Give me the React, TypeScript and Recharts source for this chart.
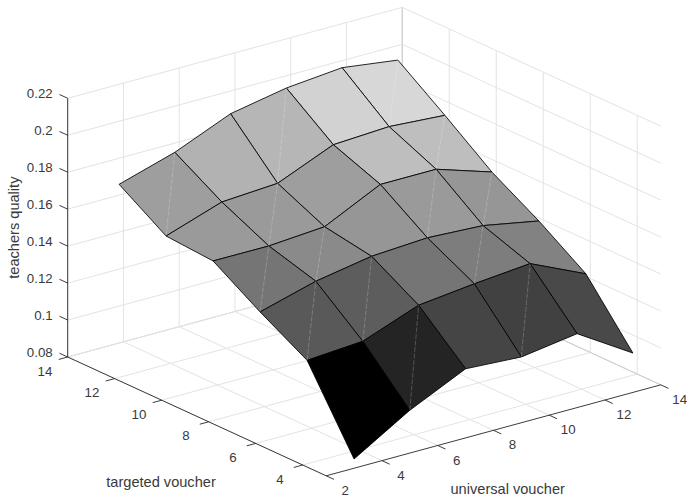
import { ScatterChart, Scatter, XAxis, YAxis } from "recharts"

const uValues = [3, 5, 7, 9, 11, 13]
const tValues = [3, 5, 7, 9, 11, 13]

// teachers quality, one row per targeted voucher value, columns follow uValues
const qualityT3 = [0.085, 0.1032, 0.1174, 0.1156, 0.12, 0.1013]
const qualityT5 = [0.1267, 0.1288, 0.1401, 0.1435, 0.1462, 0.1325]
const qualityT7 = [0.1412, 0.1496, 0.1549, 0.1567, 0.1551, 0.1494]
const qualityT9 = [0.1571, 0.157, 0.1592, 0.1739, 0.1739, 0.1642]
const qualityT11 = [0.1589, 0.1691, 0.171, 0.1837, 0.1853, 0.1832]
const qualityT13 = [0.1752, 0.1843, 0.197, 0.2027, 0.2055, 0.2014]
const surface = [qualityT3, qualityT5, qualityT7, qualityT9, qualityT11, qualityT13]

const uTicks = [2, 4, 6, 8, 10, 12, 14]
const tTicks = [4, 6, 8, 10, 12, 14]
const zTicks = [0.08, 0.1, 0.12, 0.14, 0.16, 0.18, 0.2, 0.22]
const zTickLabels = ["0.08", "0.1", "0.12", "0.14", "0.16", "0.18", "0.2", "0.22"]

const uMin = 2
const uMax = 14
const tMin = 3
const tMax = 14
const zMin = 0.08
const zMax = 0.22

// faces that show the light triangle seam, [u, t] of the low corner
const seamFaces = [
  [3, 11], [7, 11], [11, 11],
  [5, 9], [11, 9],
  [3, 7], [5, 7], [9, 7], [11, 7],
  [3, 5], [5, 5], [9, 5],
  [5, 3], [9, 3],
]

const WIDTH = 690
const HEIGHT = 497
const GRID = "#e3e3e3"
const BOX = "#cfcfcf"
const AXIS = "#262626"
const TEXT = "#3a3a3a"
const FONT = "'Liberation Sans', Arial, sans-serif"

// orthographic view of the box, same one for every mark
function project(u: number, t: number, z: number) {
  return {
    x: 67.7 + (u - uMin) * 27.88 + (tMax - t) * 23.5,
    y: 357 - (u - uMin) * 7.58 + (tMax - t) * 10.8 - (z - zMin) * 1847.9,
  }
}

// matlab gray colormap with 64 levels
function faceColor(z: number): string {
  const all = surface.flat()
  const lo = Math.min(...all)
  const hi = Math.max(...all)
  const idx = Math.min(63, Math.floor(((z - lo) / (hi - lo)) * 64))
  const g = Math.round((idx / 63) * 255)
  return `rgb(${g},${g},${g})`
}

type P3 = [number, number, number]
type Seg = { from: P3; to: P3; color: string; width: number }

function buildSegments(): Seg[] {
  const out: Seg[] = []
  const add = (from: P3, to: P3, color: string, width = 1) => out.push({ from, to, color, width })
  // floor
  uTicks.forEach((u) => add([u, tMin, zMin], [u, tMax, zMin], u === uMax ? BOX : GRID))
  tTicks.forEach((t) => add([uMin, t, zMin], [uMax, t, zMin], t === tMax ? BOX : GRID))
  // wall behind, t = tMax
  uTicks.forEach((u) => add([u, tMax, zMin], [u, tMax, zMax], u === uMax ? BOX : GRID))
  zTicks.forEach((z) => add([uMin, tMax, z], [uMax, tMax, z], GRID))
  // wall behind, u = uMax
  tTicks.forEach((t) => add([uMax, t, zMin], [uMax, t, zMax], t === tMax ? BOX : GRID))
  zTicks.forEach((z) => add([uMax, tMin, z], [uMax, tMax, z], z === zMin ? BOX : GRID))
  // axes and their ticks
  add([uMin, tMax, zMin], [uMin, tMax, zMax], AXIS, 0.9)
  add([uMin, tMin, zMin], [uMin, tMax, zMin], AXIS, 0.9)
  add([uMin, tMin, zMin], [uMax, tMin, zMin], AXIS, 0.9)
  zTicks.forEach((z) => add([uMin, tMax, z], [uMin, tMax + 0.35, z], AXIS, 0.9))
  tTicks.forEach((t) => add([uMin, t, zMin], [uMin - 0.32, t, zMin], AXIS, 0.9))
  uTicks.forEach((u) => add([u, tMin, zMin], [u, tMin - 0.33, zMin], AXIS, 0.9))
  return out
}

const segments = buildSegments()

type Face = { key: string; corners: P3[]; color: string }

// painted from the far corner to the near one
function buildFaces(): Face[] {
  const out: Face[] = []
  for (let j = tValues.length - 2; j >= 0; j--) {
    for (let i = uValues.length - 2; i >= 0; i--) {
      out.push({
        key: `${i}-${j}`,
        corners: [
          [uValues[i], tValues[j], surface[j][i]],
          [uValues[i + 1], tValues[j], surface[j][i + 1]],
          [uValues[i + 1], tValues[j + 1], surface[j + 1][i + 1]],
          [uValues[i], tValues[j + 1], surface[j + 1][i]],
        ],
        color: faceColor(surface[j][i]),
      })
    }
  }
  return out
}

const faces = buildFaces()

function buildSeams(): P3[][] {
  return seamFaces.map(([u, t]) => {
    const i = uValues.indexOf(u)
    const j = tValues.indexOf(t)
    return [
      [u, t, surface[j][i]],
      [uValues[i + 1], tValues[j + 1], surface[j + 1][i + 1]],
    ] as P3[]
  })
}

const seams = buildSeams()

const toPoints = (pts: P3[]) => pts.map(([u, t, z]) => project(u, t, z))

const noDot = () => <g />

function faceLine(color: string) {
  return (props: any) => (
    <polygon
      points={props.points.map((p: any) => `${p.x},${p.y}`).join(" ")}
      fill={color}
      stroke="#000"
      strokeWidth={0.85}
      strokeLinejoin="round"
    />
  )
}

function tickText(anchor: "middle" | "end", dx: number, dy: number, size: number) {
  return (props: any) => (
    <text
      x={props.cx + dx}
      y={props.cy + dy}
      textAnchor={anchor}
      dominantBaseline="central"
      fontFamily={FONT}
      fontSize={size}
      fill={TEXT}
    >
      {props.payload.label}
    </text>
  )
}

const zLabelData = zTicks.map((z, i) => ({ ...project(uMin, tMax, z), label: zTickLabels[i] }))
const tLabelData = tTicks.map((t) => ({ ...project(uMin, t, zMin), label: String(t) }))
const uLabelData = uTicks.map((u) => ({ ...project(u, tMin, zMin), label: String(u) }))

const xTitle = [{ ...project(8.7, tMin, zMin), label: "universal voucher" }]
const yTitle = [{ ...project(uMin, 8, zMin), label: "targeted voucher" }]
const zTitle = [{ ...project(uMin, tMax, 0.15), label: "teachers quality" }]

export default function App() {
  return (
    <div style={{ position: "absolute", left: 0, top: 0, width: WIDTH, height: HEIGHT, background: "#fff" }}>
      <ScatterChart width={WIDTH} height={HEIGHT} margin={{ top: 0, right: 0, bottom: 0, left: 0 }}>
        <XAxis type="number" dataKey="x" domain={[0, WIDTH]} hide allowDataOverflow />
        <YAxis type="number" dataKey="y" domain={[0, HEIGHT]} reversed hide allowDataOverflow />

        {segments.map((s, i) => (
          <Scatter
            key={`seg-${i}`}
            data={toPoints([s.from, s.to])}
            line={{ stroke: s.color, strokeWidth: s.width }}
            shape={noDot}
            isAnimationActive={false}
          />
        ))}

        {faces.map((f) => (
          <Scatter
            key={`face-${f.key}`}
            data={toPoints(f.corners)}
            line={faceLine(f.color)}
            shape={noDot}
            isAnimationActive={false}
          />
        ))}

        {seams.map((s, i) => (
          <Scatter
            key={`seam-${i}`}
            data={toPoints(s)}
            line={{ stroke: "#ffffff", strokeOpacity: 0.3, strokeWidth: 0.7, strokeDasharray: "5 1.5" }}
            shape={noDot}
            isAnimationActive={false}
          />
        ))}

        <Scatter data={zLabelData} shape={tickText("end", -15, -5, 13.3)} isAnimationActive={false} />
        <Scatter data={tLabelData} shape={tickText("middle", -22.7, 14, 13.3)} isAnimationActive={false} />
        <Scatter data={uLabelData} shape={tickText("middle", 19, 14.6, 13.3)} isAnimationActive={false} />

        <Scatter data={xTitle} shape={tickText("middle", -5.3, 64.3, 14.6)} isAnimationActive={false} />
        <Scatter data={yTitle} shape={tickText("middle", -47.7, 60, 14.6)} isAnimationActive={false} />
        <Scatter
          data={zTitle}
          shape={(props: any) => (
            <text
              transform={`translate(14 ${props.cy}) rotate(-90)`}
              textAnchor="middle"
              dominantBaseline="central"
              fontFamily={FONT}
              fontSize={14.6}
              fill={TEXT}
            >
              {props.payload.label}
            </text>
          )}
          isAnimationActive={false}
        />
      </ScatterChart>
    </div>
  )
}
